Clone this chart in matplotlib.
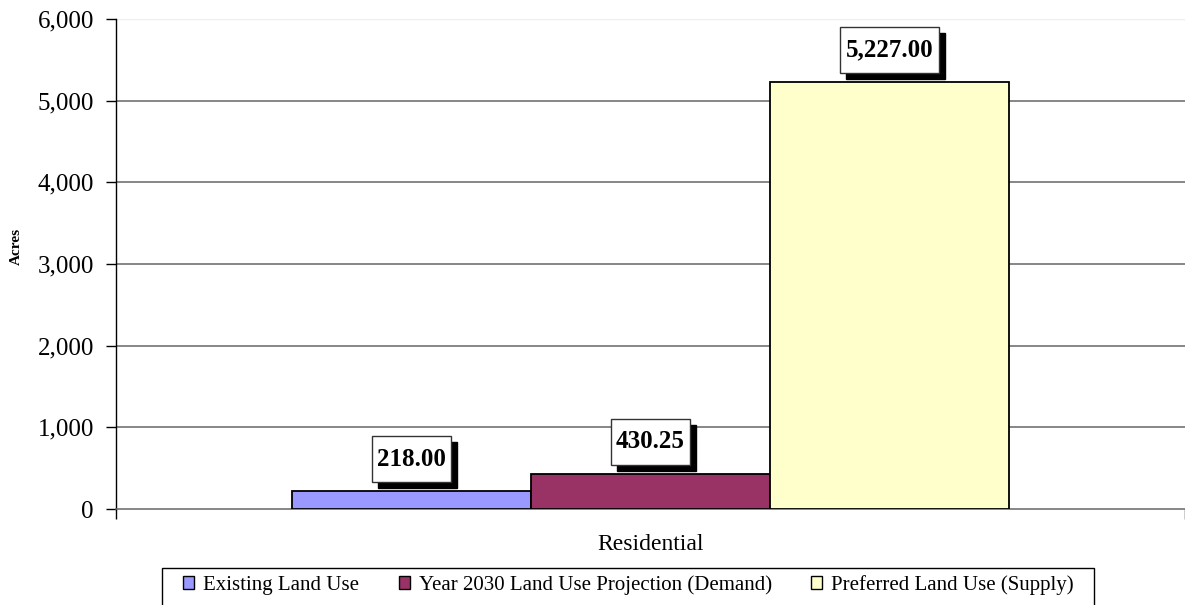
import matplotlib
matplotlib.use("Agg")
import matplotlib.pyplot as plt
from matplotlib.patches import Rectangle, Patch
from matplotlib.ticker import FuncFormatter
from matplotlib.transforms import IdentityTransform

plt.rcParams['font.family'] = ['Liberation Serif', 'DejaVu Serif']

# Data
category = "Residential"
series_names = [
    "Existing Land Use",
    "Year 2030 Land Use Projection (Demand)",
    "Preferred Land Use (Supply)",
]
acres = [218.00, 430.25, 5227.00]
colors = ["#9999FF", "#993366", "#FFFFCC"]
y_ticks = [0, 1000, 2000, 3000, 4000, 5000, 6000]

W, H = 1185, 605
fig = plt.figure(figsize=(W / 100, H / 100), dpi=100)
ax = fig.add_axes([116 / W, 1 - 509 / H, 1069 / W, 490 / H])

bar_w = 0.2236
offsets = [-bar_w, 0.0, bar_w]
bars = []
for off, val, col in zip(offsets, acres, colors):
    b = ax.bar(off, val, width=bar_w, color=col, edgecolor="black",
               linewidth=1.3, zorder=3)
    bars.append(b[0])

ax.set_xlim(-0.5, 0.5)
ax.set_ylim(0, 6000)

# horizontal gridlines
for t in y_ticks[1:-1]:
    ax.axhline(t, color="#666666", linewidth=1.1, zorder=1)
ax.axhline(6000, color="#eeeeee", linewidth=1.0, zorder=1)

for s in ["top", "right"]:
    ax.spines[s].set_visible(False)
ax.spines["left"].set_color("black")
ax.spines["left"].set_linewidth(1.0)
ax.spines["bottom"].set_color("#666666")
ax.spines["bottom"].set_linewidth(1.1)

ax.set_yticks(y_ticks)
ax.yaxis.set_major_formatter(FuncFormatter(lambda v, p: f"{int(v):,}"))
ax.tick_params(axis="y", length=7, width=1.0, pad=9, labelsize=18,
               color="black")

ax.set_xticks([0])
ax.set_xticklabels([category])
ax.set_xticks([-0.5, 0.5], minor=True)
ax.tick_params(axis="x", which="major", length=0, pad=18, labelsize=17)
ax.tick_params(axis="x", which="minor", length=7, width=1.0, color="black")

ax.set_ylabel("Acres", fontsize=11, fontweight="bold")
ax.yaxis.set_label_coords(-0.087, 0.535)

# value labels in boxes with drop shadow
renderer = fig.canvas.get_renderer()
for bar, val in zip(bars, acres):
    cx = bar.get_x() + bar.get_width() / 2
    px, py = ax.transData.transform((cx, val))
    box_h = 46
    box_bottom = py + 9
    txt = fig.text(px, box_bottom + box_h / 2, f"{val:,.2f}",
                   transform=IdentityTransform(), ha="center", va="center",
                   fontsize=18, fontweight="bold", zorder=7)
    ext = txt.get_window_extent(renderer)
    box_w = ext.width + 11
    x0 = px - box_w / 2
    shadow = Rectangle((x0 + 6, box_bottom - 6), box_w, box_h,
                       transform=IdentityTransform(), facecolor="black",
                       edgecolor="black", zorder=4)
    box = Rectangle((x0, box_bottom), box_w, box_h,
                    transform=IdentityTransform(), facecolor="white",
                    edgecolor="#333333", linewidth=1.0, zorder=5)
    fig.add_artist(shadow)
    fig.add_artist(box)

# legend with a plain rectangular frame
handles = [Patch(facecolor=c, edgecolor="black", linewidth=1.0) for c in colors]
leg = fig.legend(handles, series_names, loc="center left",
                 bbox_to_anchor=(183 / W, 1 - 585 / H), ncol=3,
                 frameon=False, borderaxespad=0, borderpad=0,
                 handlelength=0.53, handleheight=0.53,
                 handletextpad=0.43, columnspacing=1.9, fontsize=15.0)
frame = Rectangle((162, 0 - 10), 1094 - 162, (H - 568) + 10,
                  transform=IdentityTransform(), facecolor="white",
                  edgecolor="black", linewidth=1.0, zorder=0)
fig.add_artist(frame)
leg.set_zorder(2)

fig.savefig("out.png", dpi=100)
